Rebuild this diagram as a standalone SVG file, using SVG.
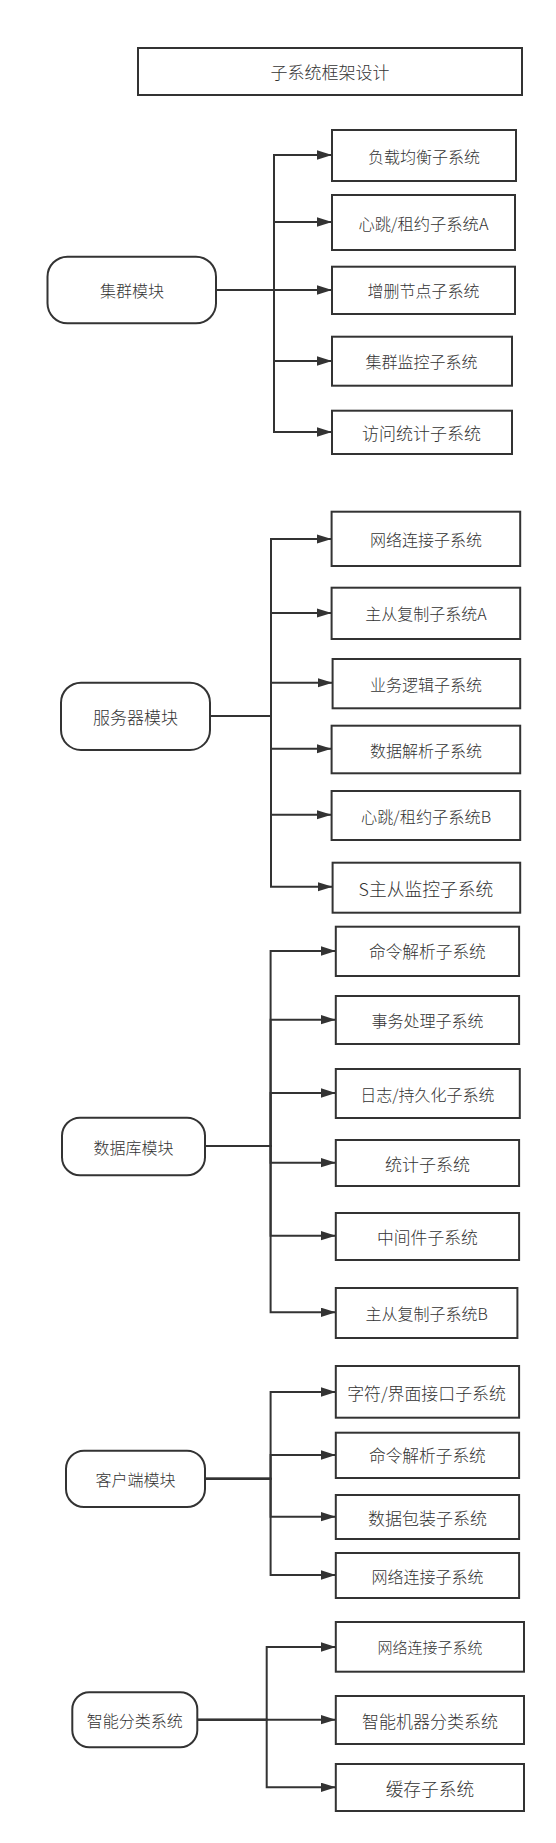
<svg xmlns="http://www.w3.org/2000/svg" width="556" height="1843" viewBox="0 0 556 1843">
<defs>
<style>
.box{fill:#fff;stroke:#333;stroke-width:2}
.mod{fill:#fff;stroke:#333;stroke-width:2}
.t{font-family:"Noto Sans CJK SC","Noto Sans",sans-serif;font-weight:300;fill:#333;text-anchor:middle;dominant-baseline:central}
.e{fill:none;stroke:#333;stroke-width:2;marker-end:url(#arr)}
</style>
<marker id="arr" markerUnits="userSpaceOnUse" markerWidth="16" markerHeight="10" refX="15" refY="4.7" orient="auto">
<path d="M0,0 L15,4.7 L0,9.4 z" fill="#333"/>
</marker>
</defs>
<rect width="556" height="1843" fill="#fff"/>

<g id="title"><rect class="box" x="138" y="48" width="384" height="47"/><text class="t" x="330" y="71.5" font-size="17">子系统框架设计</text></g>

<g id="connectors">
<path class="e" d="M216,290 H274 V155 H332"/>
<path class="e" d="M216,290 H274 V222 H332"/>
<path class="e" d="M216,290 H332"/>
<path class="e" d="M216,290 H274 V361 H332"/>
<path class="e" d="M216,290 H274 V432 H332"/>

<path class="e" d="M210,716 H271 V539 H331.6"/>
<path class="e" d="M210,716 H271 V613 H331.6"/>
<path class="e" d="M210,716 H271 V682.7 H332.6"/>
<path class="e" d="M210,716 H271 V748.7 H331.6"/>
<path class="e" d="M210,716 H271 V814.7 H331.6"/>
<path class="e" d="M210,716 H271 V886.7 H332.6"/>

<path class="e" d="M205,1146 H270.6 V951 H335.8"/>
<path class="e" d="M205,1146 H270.6 V1019.7 H335.8"/>
<path class="e" d="M205,1146 H270.6 V1093 H335.8"/>
<path class="e" d="M205,1146 H270.6 V1162.7 H335.8"/>
<path class="e" d="M205,1146 H270.6 V1235.7 H335.8"/>
<path class="e" d="M205,1146 H270.6 V1312.3 H335.8"/>

<path class="e" d="M205,1478.7 H270.6 V1392 H335.8"/>
<path class="e" d="M205,1478.7 H270.6 V1455 H335.8"/>
<path class="e" d="M205,1478.7 H270.6 V1516.7 H335.8"/>
<path class="e" d="M205,1478.7 H270.6 V1575 H335.8"/>

<path class="e" d="M197.3,1719.7 H266.7 V1647 H335.8"/>
<path class="e" d="M197.3,1719.7 H335.8"/>
<path class="e" d="M197.3,1719.7 H266.7 V1787.3 H335.8"/>
</g>

<g id="m1"><rect class="mod" x="47.5" y="256.7" width="168.5" height="66.6" rx="20" ry="20"/><text class="t" x="132" y="290" font-size="16">集群模块</text></g>
<g id="n1-1"><rect class="box" x="332" y="130" width="184" height="51"/><text class="t" x="424" y="155.5" font-size="16">负载均衡子系统</text></g>
<g id="n1-2"><rect class="box" x="332" y="195" width="183" height="55"/><text class="t" x="423.5" y="222.5" font-size="16.3">心跳/租约子系统A</text></g>
<g id="n1-3"><rect class="box" x="332" y="266.7" width="183" height="47.3"/><text class="t" x="423.5" y="290.3" font-size="16">增删节点子系统</text></g>
<g id="n1-4"><rect class="box" x="332" y="336.7" width="180" height="49"/><text class="t" x="421.5" y="361.2" font-size="16">集群监控子系统</text></g>
<g id="n1-5"><rect class="box" x="332" y="410.7" width="180" height="43.3"/><text class="t" x="421.5" y="432.3" font-size="17">访问统计子系统</text></g>

<g id="m2"><rect class="mod" x="61" y="682.7" width="149" height="67.3" rx="20" ry="20"/><text class="t" x="135.5" y="716.3" font-size="17">服务器模块</text></g>
<g id="n2-1"><rect class="box" x="331.6" y="511.7" width="188.6" height="54.3"/><text class="t" x="426" y="538.8" font-size="16">网络连接子系统</text></g>
<g id="n2-2"><rect class="box" x="331.6" y="587.7" width="188.6" height="51.3"/><text class="t" x="426" y="613.3" font-size="16">主从复制子系统A</text></g>
<g id="n2-3"><rect class="box" x="332.6" y="659" width="187.6" height="49.3"/><text class="t" x="426" y="683.7" font-size="16">业务逻辑子系统</text></g>
<g id="n2-4"><rect class="box" x="331.6" y="725.7" width="188.6" height="47.6"/><text class="t" x="426" y="749.5" font-size="16">数据解析子系统</text></g>
<g id="n2-5"><rect class="box" x="331.6" y="791" width="188.6" height="49"/><text class="t" x="426" y="815.5" font-size="16.2">心跳/租约子系统B</text></g>
<g id="n2-6"><rect class="box" x="332.6" y="862.7" width="187.6" height="50"/><text class="t" x="426" y="887.7" font-size="17.8">S主从监控子系统</text></g>

<g id="m3"><rect class="mod" x="62" y="1117.7" width="143" height="57.6" rx="18" ry="18"/><text class="t" x="133.5" y="1146.5" font-size="16">数据库模块</text></g>
<g id="n3-1"><rect class="box" x="335.8" y="926.7" width="183.3" height="49.3"/><text class="t" x="427.4" y="951.3" font-size="16.7">命令解析子系统</text></g>
<g id="n3-2"><rect class="box" x="335.8" y="996" width="183.3" height="48"/><text class="t" x="427.4" y="1020" font-size="16">事务处理子系统</text></g>
<g id="n3-3"><rect class="box" x="335.8" y="1069" width="184" height="49"/><text class="t" x="427.4" y="1093.5" font-size="16">日志/持久化子系统</text></g>
<g id="n3-4"><rect class="box" x="335.8" y="1140" width="183.3" height="46"/><text class="t" x="427.4" y="1163" font-size="17">统计子系统</text></g>
<g id="n3-5"><rect class="box" x="335.8" y="1213" width="183.3" height="47"/><text class="t" x="427.4" y="1236.5" font-size="16.8">中间件子系统</text></g>
<g id="n3-6"><rect class="box" x="335.8" y="1288" width="181.6" height="50"/><text class="t" x="426.6" y="1313" font-size="16">主从复制子系统B</text></g>

<g id="m4"><rect class="mod" x="66" y="1450.7" width="139" height="56.3" rx="18" ry="18"/><text class="t" x="135.5" y="1478.8" font-size="16">客户端模块</text></g>
<g id="n4-1"><rect class="box" x="335.8" y="1366" width="183.3" height="51.7"/><text class="t" x="426.5" y="1392" font-size="16.9">字符/界面接口子系统</text></g>
<g id="n4-2"><rect class="box" x="335.8" y="1432.7" width="183.3" height="45.3"/><text class="t" x="427.4" y="1455.3" font-size="16.7">命令解析子系统</text></g>
<g id="n4-3"><rect class="box" x="335.8" y="1495" width="183.3" height="44"/><text class="t" x="427.4" y="1517" font-size="17">数据包装子系统</text></g>
<g id="n4-4"><rect class="box" x="335.8" y="1553" width="183.3" height="45"/><text class="t" x="427.4" y="1575.5" font-size="16">网络连接子系统</text></g>

<g id="m5"><rect class="mod" x="72.3" y="1692.3" width="125" height="55" rx="17" ry="17"/><text class="t" x="134.8" y="1719.8" font-size="16">智能分类系统</text></g>
<g id="n5-1"><rect class="box" x="335.8" y="1622" width="188.2" height="49.7"/><text class="t" x="429.9" y="1646.8" font-size="15">网络连接子系统</text></g>
<g id="n5-2"><rect class="box" x="335.8" y="1696" width="188.2" height="48"/><text class="t" x="429.9" y="1720" font-size="17">智能机器分类系统</text></g>
<g id="n5-3"><rect class="box" x="335.8" y="1764" width="188.2" height="47"/><text class="t" x="429.9" y="1787.5" font-size="17.7">缓存子系统</text></g>
</svg>
